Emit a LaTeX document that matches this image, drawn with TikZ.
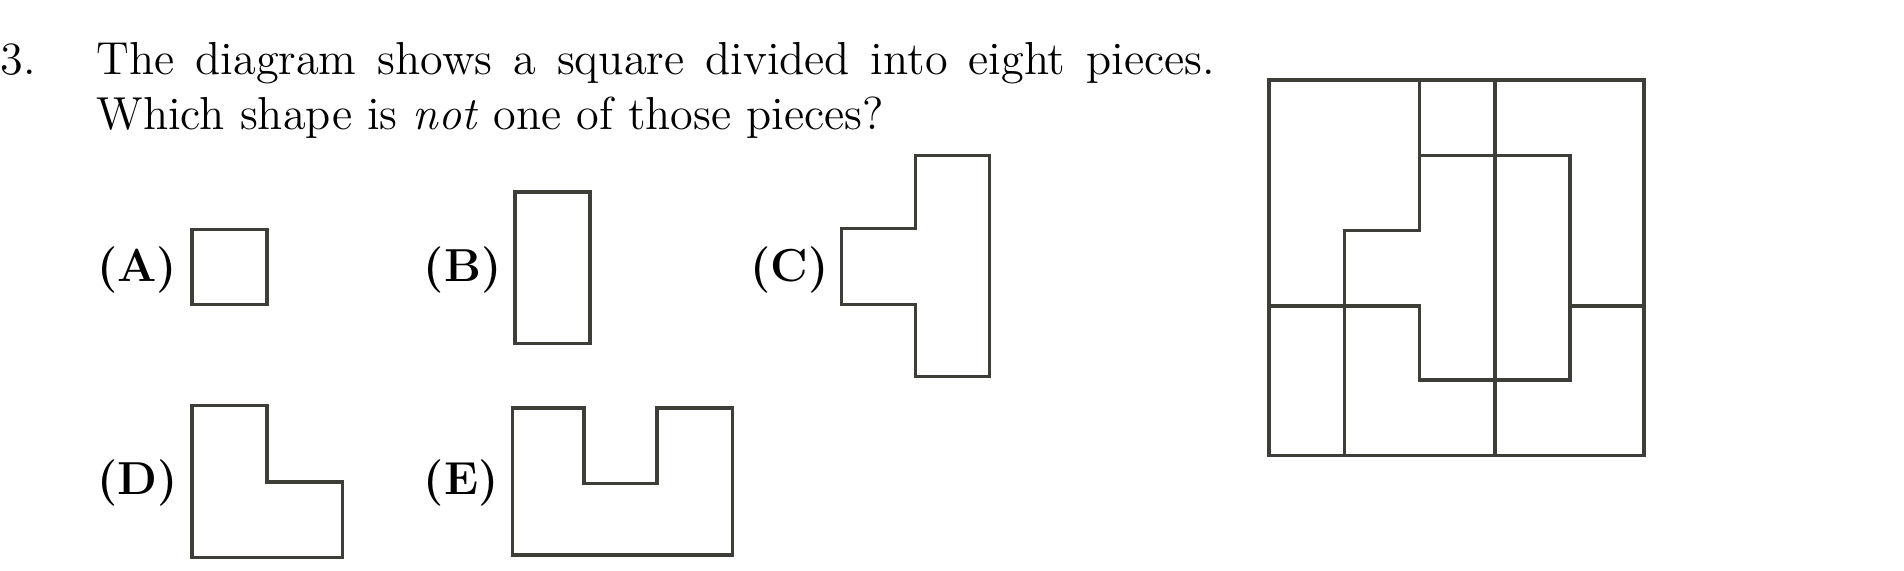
\documentclass[tikz,border=0pt]{standalone}
\definecolor{ink}{RGB}{62,62,56}
\newdimen\unitu \unitu=0.315pt
\begin{document}
\begin{tikzpicture}[x=\unitu,y=-\unitu,
  piece/.style={draw=ink,line width=2.8\unitu,line join=miter,line cap=rect},
  txt/.style={anchor=base west,inner sep=0pt,font=\fontsize{12}{14.5}\selectfont},
  lab/.style={anchor=base west,inner sep=0pt,font=\fontsize{12}{14.5}\selectfont\bfseries}]
\useasboundingbox (0,0) rectangle (1568,470);
% question text
\node[txt] (num) at (0,61) {3.};
\node[txt] (line1) at (79,61) {\makebox[921\unitu][s]{The diagram shows a square divided into eight pieces.}};
\node[txt] (line2) at (79,107) {Which shape is \textit{not} one of those pieces?};
% labels
\node[lab] (la) at (79.5,231.5) {(A)};
\node[lab] (lb) at (348.5,231.5) {(B)};
\node[lab] (lc) at (617.5,231.5) {(C)};
\node[lab] (ld) at (79.5,407) {(D)};
\node[lab] (le) at (348.5,407) {(E)};
% shapes
\draw[piece] (158,189) rectangle (220,251);
\draw[piece] (424,158) rectangle (486,283);
\draw[piece] (754,128) -- (815,128) -- (815,310) -- (754,310) -- (754,251) -- (693,251) -- (693,188) -- (754,188) -- cycle;
\draw[piece] (158,334) -- (220,334) -- (220,397) -- (282,397) -- (282,459) -- (158,459) -- cycle;
\draw[piece] (422,336) -- (481,336) -- (481,398) -- (541,398) -- (541,336) -- (603,336) -- (603,457) -- (422,457) -- cycle;
% divided square
\draw[piece] (1045,66) rectangle (1354,375);
\draw[piece] (1169,66) -- (1169,190) -- (1107,190) -- (1107,375);
\draw[piece] (1231,66) -- (1231,375);
\draw[piece] (1169,128) -- (1293,128) -- (1293,313) -- (1169,313) -- (1169,252) -- (1045,252);
\draw[piece] (1293,252) -- (1354,252);
\end{tikzpicture}
\end{document}
